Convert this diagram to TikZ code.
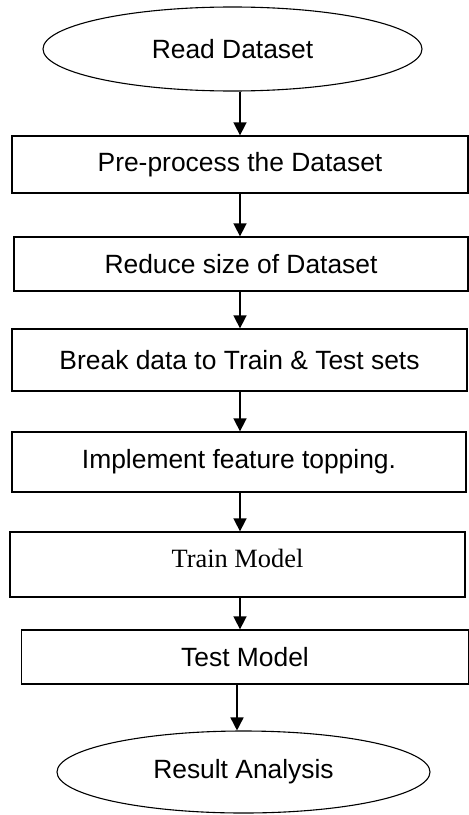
\documentclass[tikz,border=0pt]{standalone}
\usepackage{fontspec}
\setmainfont{Liberation Sans}
\newfontfamily\timesfont{Liberation Serif}
\usetikzlibrary{shapes.geometric,arrows.meta}
\tikzset{
  box/.style={draw, line width=1.3bp, rectangle, inner sep=0pt, font=\fontsize{26.5}{30}\selectfont},
  oval/.style={draw, line width=1.1bp, ellipse, inner sep=0pt, font=\fontsize{26.5}{30}\selectfont},
  arr/.style={line width=1.6bp, -{Triangle[width=13bp,length=13bp]}}
}
\begin{document}
\begin{tikzpicture}[x=1bp,y=-1bp]
\useasboundingbox (0,0) rectangle (469,815);
\node[oval, minimum width=379bp, minimum height=84bp] (e1) at (232.5,49) {Read Dataset};
\node[box, minimum width=456bp, minimum height=57bp] (b1) at (240,164.5) {Pre-process the Dataset};
\node[box, minimum width=454bp, minimum height=54bp] (b2) at (241,264) {Reduce size of Dataset};
\node[box, minimum width=455bp, minimum height=62bp] (b3) at (239.5,360) {Break data to Train \& Test sets};
\node[box, minimum width=454bp, minimum height=60bp] (b4) at (239,462) {Implement feature topping.};
\node[box, minimum width=455bp, minimum height=65bp, text depth=12bp, font=\fontsize{26.5}{30}\timesfont] (b5) at (237.5,564.5) {Train Model};
\node[box, minimum width=447bp, minimum height=54bp] (b6) at (245,657) {Test Model};
\node[oval, minimum width=373bp, minimum height=82bp] (e2) at (243.5,772) {Result Analysis};
\coordinate (ax) at (240,0);
\coordinate (ay) at (237,0);
\draw[arr] (e1.south -| ax) -- (b1.north -| ax);
\draw[arr] (b1.south -| ax) -- (b2.north -| ax);
\draw[arr] (b2.south -| ax) -- (b3.north -| ax);
\draw[arr] (b3.south -| ax) -- (b4.north -| ax);
\draw[arr] (b4.south -| ax) -- (b5.north -| ax);
\draw[arr] (b5.south -| ax) -- (b6.north -| ax);
\draw[arr] (b6.south -| ay) -- (e2.north -| ay);
\end{tikzpicture}
\end{document}
